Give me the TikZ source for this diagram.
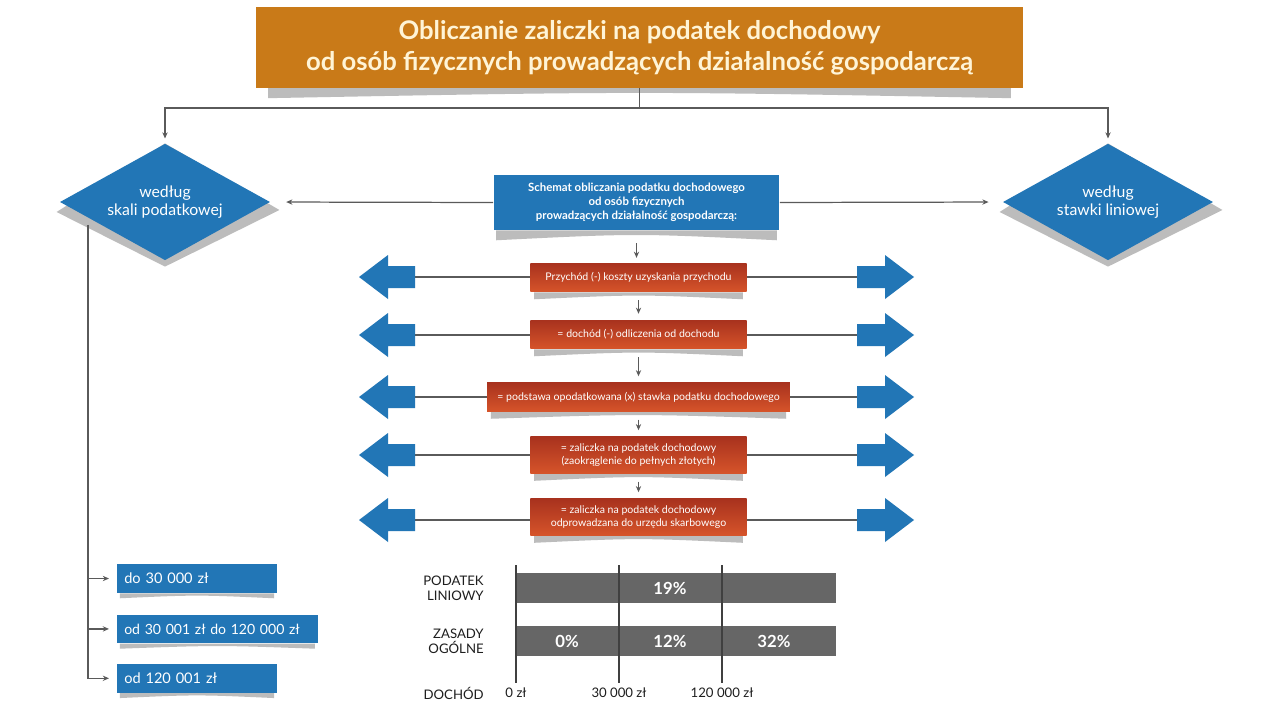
\documentclass[tikz,border=0pt]{standalone}
\usepackage{fontspec}
\setmainfont{Lato}
\usetikzlibrary{shapes.geometric, arrows.meta, positioning, backgrounds, calc}
\usepackage{xcolor}
\definecolor{titleorange}{RGB}{201, 122, 24}
\definecolor{titlecream}{RGB}{255, 244, 214}
\definecolor{schemeblue}{RGB}{34, 118, 182}
\definecolor{steptop}{RGB}{168, 50, 30}
\definecolor{stepbottom}{RGB}{214, 84, 42}
\definecolor{liftgray}{RGB}{188, 188, 188}
\definecolor{linkgray}{RGB}{90, 90, 90}
\definecolor{bargray}{RGB}{102, 102, 102}
\definecolor{inkdark}{RGB}{30, 30, 30}
\tikzset{
    title box/.style={
        rectangle,
        fill=titleorange,
        text=titlecream,
        minimum width=436pt,
        minimum height=45.9pt,
        inner sep=0pt,
        align=center,
        font=\fontsize{14.6pt}{17.6pt}\selectfont\bfseries
    },
    choice/.style={
        diamond,
        aspect=1.8,
        fill=schemeblue,
        text=white,
        minimum width=119.6pt,
        minimum height=66.3pt,
        inner sep=0pt,
        align=center,
        font=\fontsize{9pt}{10.5pt}\selectfont
    },
    scheme box/.style={
        rectangle,
        fill=schemeblue,
        text=white,
        minimum width=162.7pt,
        minimum height=31.2pt,
        inner sep=0pt,
        align=center,
        font=\fontsize{6.5pt}{7.9pt}\selectfont\bfseries
    },
    step box/.style={
        rectangle,
        top color=steptop,
        bottom color=stepbottom,
        text=white,
        minimum width=123pt,
        minimum height=16.4pt,
        inner sep=0pt,
        align=center,
        font=\fontsize{6pt}{7pt}\selectfont
    },
    range box/.style={
        rectangle,
        fill=schemeblue,
        text=white,
        text width=82.8pt,
        minimum height=16.4pt,
        inner xsep=4pt,
        inner ysep=0pt,
        align=left,
        font=\fontsize{8.3pt}{10pt}\selectfont
    },
    lift/.style={
        fill=liftgray
    },
    link/.style={
        line width=0.7pt,
        draw=linkgray
    },
    arrow/.style={
        -{Stealth[length=3.5pt, width=3pt]},
        line width=0.7pt,
        draw=linkgray
    }
}

\begin{document}
\begin{tikzpicture}[
    x=0.02cm, y=-0.02cm,
    block arrow/.style={fill=schemeblue},
    bar/.style={rectangle, fill=bargray, inner sep=0pt, minimum width=182pt, minimum height=17pt},
    bar label/.style={text=white, inner sep=0pt, font=\fontsize{9.5pt}{11pt}\selectfont\bfseries},
    row label/.style={anchor=east, align=right, inner sep=0pt, text=inkdark,
                      font=\fontsize{7.5pt}{8.5pt}\selectfont},
    axis label/.style={inner sep=0pt, text=inkdark, font=\fontsize{7.5pt}{8.5pt}\selectfont},
    grid/.style={line width=0.6pt, draw=inkdark!85}
]
\useasboundingbox (0,0) rectangle (1280,720);

% Title
\node[title box] (title) at (639.5,47.5) {
    Obliczanie zaliczki na podatek dochodowy\\
    od osób fizycznych prowadzących działalność gospodarczą
};

% === TWO WAYS OF TAXATION ===
\node[choice] (scale) at (165,202) {według\\skali podatkowej};
\node[choice] (flat) at (1108,202) {według\\stawki liniowej};

\coordinate (split) at (639.5,108);
\draw[link] (title.south) -- (split);
\draw[arrow, shorten >=2.8pt] (split) -| (scale.north);
\draw[arrow, shorten >=2.8pt] (split) -| (flat.north);

% Scheme box
\node[scheme box] (scheme) at (636.5,202.5) {
    Schemat obliczania podatku dochodowego\\
    od osób fizycznych\\
    prowadzących działalność gospodarczą:
};
\draw[arrow, shorten >=9pt] (scheme.west) -- (scale.east);
\draw[arrow, shorten >=8pt] (scheme.east) -- (flat.west);

% === CALCULATION STEPS ===
\node[step box] (r1) at (638.5,277.5) {Przychód (-) koszty uzyskania przychodu};
\node[step box] (r2) at (638.5,334.5) {= dochód (-) odliczenia od dochodu};
\node[step box, minimum width=172.3pt] (r3) at (638.5,397) {= podstawa opodatkowana (x) stawka podatku dochodowego};
\node[step box, minimum height=21pt] (r4) at (638.5,455) {
    = zaliczka na podatek dochodowy\\
    (zaokrąglenie do pełnych złotych)
};
\node[step box, minimum height=21pt] (r5) at (638.5,517) {
    = zaliczka na podatek dochodowy\\
    odprowadzana do urzędu skarbowego
};

\draw[arrow, shorten <=7.4pt, shorten >=2.8pt] (scheme.south) -- (scheme.south |- r1.north);
\foreach \a/\b in {r1/r2, r2/r3, r3/r4, r4/r5} {
    \draw[arrow, shorten <=4.5pt, shorten >=3.4pt] (\a.south) -- (\b.north);
}

% Blue block arrows on both sides
\foreach \n/\y in {r1/277, r2/335, r3/397, r4/455, r5/520} {
    \coordinate (lt\n) at (415,\y);
    \coordinate (rt\n) at (857,\y);
    \draw[link] (\n.west |- lt\n) -- (lt\n);
    \draw[link] (\n.east |- rt\n) -- (rt\n);
    \fill[block arrow] (lt\n) -- ++(0,-11) -- ++(-27,0) -- ++(0,-11) -- ++(-29,22)
        -- ++(29,22) -- ++(0,-11) -- ++(27,0) -- cycle;
    \fill[block arrow] (rt\n) -- ++(0,-11) -- ++(28,0) -- ++(0,-11) -- ++(29,22)
        -- ++(-29,22) -- ++(0,-11) -- ++(-28,0) -- cycle;
}

% === TAX SCALE THRESHOLDS ===
\node[range box] (b1) at (197,578.5) {do 30 000 zł};
\node[range box, text width=106pt, font=\fontsize{8pt}{10pt}\selectfont,
      below=11.9pt of b1.south west, anchor=north west] (b2) {\mbox{od 30 001 zł do 120 000 zł}};
\node[range box, below=11.3pt of b2.south west, anchor=north west] (b3) {od 120 001 zł};

\coordinate (drop) at ($(scale.west)!0.27!(scale.south)+(0,7)$);
\draw[arrow, shorten >=4.5pt] (drop) |- (b3.west);
\foreach \b in {b1, b2} {
    \draw[arrow, shorten >=4.5pt] (drop |- \b.west) -- (\b.west);
}

% === RATE CHART ===
\node[bar] (flatbar) at (676.5,588) {};
\node[bar] (scalebar) at (676.5,641) {};
\node[bar label] (p19) at (670,588) {19\%};
\node[bar label] (p0) at (567,641) {0\%};
\node[bar label] (p12) at (670,641) {12\%};
\node[bar label] (p32) at (774,641) {32\%};

\foreach \x/\lab [count=\i] in {516/0 zł, 619/30 000 zł, 722/120 000 zł} {
    \draw[grid] (\x,565) -- (\x,683);
    \node[axis label] (tick\i) at (\x,693) {\lab};
}

\node[row label] (flatlab) at (484,588) {PODATEK\\LINIOWY};
\node[row label] (scalelab) at (484,641) {ZASADY\\OGÓLNE};
\node[row label] (incomelab) at (484,693) {DOCHÓD};

% Lifted shadows behind boxes
\begin{scope}[on background layer]
    \fill[white] (0,0) rectangle (1280,720);
    \foreach \n/\i/\d in {title/12/10, scheme/3/10, r1/4/7, r2/4/7, r3/4/7, r4/4/7, r5/4/7, b1/3/5, b2/3/5, b3/3/5} {
        \fill[lift] ($(\n.south west)+(\i,0)$) -- ($(\n.south east)+(-\i,0)$)
            -- ($(\n.south east)+(-\i,\d)$) .. controls ($(\n.south)+(0,0.3*\d)$)
            .. ($(\n.south west)+(\i,\d)$) -- cycle;
    }
    \foreach \n in {scale, flat} {
        \fill[lift] (\n.north) -- ($(\n.west)+(-3,10)$) -- ($(\n.south)+(0,6)$)
            -- ($(\n.east)+(9,8)$) -- cycle;
    }
\end{scope}

\end{tikzpicture}
\end{document}
